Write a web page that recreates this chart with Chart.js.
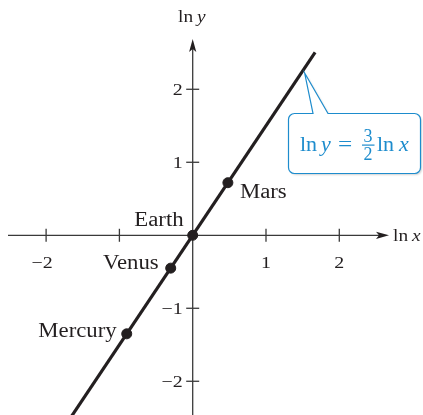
<!DOCTYPE html>
<html>
<head>
<meta charset="utf-8">
<script src="https://cdn.jsdelivr.net/npm/chart.js@4/dist/chart.umd.min.js"></script>
<style>
  html, body { margin: 0; padding: 0; background: #fff; }
  #wrap { width: 423px; height: 415px; position: relative; }
</style>
</head>
<body>
<div id="wrap"><canvas id="c"></canvas></div>
<script>
// Planets on a log-log plot (Kepler's third law)
const planets = ['Mercury', 'Venus', 'Earth', 'Mars'];
const lnX = [-0.90, -0.30, 0, 0.48];
const lnY = [-1.35, -0.45, 0, 0.72];

// Fitted line ln y = (3/2) ln x, drawn across this ln x span
const slopeNum = 3, slopeDen = 2;
const lineLnX = [-1.65, 1.67];

// Axis ticks and their labels
const xTicks = [-2, -1, 1, 2];
const xTickLabels = ['\u22122', '', '1', '2'];
const yTicks = [-2, -1, 1, 2];
const yTickLabels = ['\u22122', '\u22121', '1', '2'];

const INK = '#231f20';
const BLUE = '#1d8ccd';
const SERIF = '"Liberation Serif", "DejaVu Serif", serif';
const WIDE = 1.14; // the serif face is set slightly wide

// label placement relative to each dot (pixels), and text alignment
const labelLayout = {
  Mercury: { dx: -10, dy: 3, align: 'right' },
  Venus:   { dx: -12, dy: 1, align: 'right' },
  Earth:   { dx: -9,  dy: -9, align: 'right' },
  Mars:    { dx: 12,  dy: 15, align: 'left' }
};

// draw text with a horizontal stretch; returns the drawn width
function wideText(ctx, str, x, y, font, align) {
  ctx.save();
  ctx.font = font;
  const w = ctx.measureText(str).width * WIDE;
  let left = x;
  if (align === 'center') left = x - w / 2;
  else if (align === 'right') left = x - w;
  ctx.translate(left, y);
  ctx.scale(WIDE, 1);
  ctx.textAlign = 'left';
  ctx.fillText(str, 0, 0);
  ctx.restore();
  return w;
}

function arrowHead(ctx, tipX, tipY, dir) {
  ctx.save();
  ctx.translate(tipX, tipY);
  if (dir === 'up') ctx.rotate(-Math.PI / 2);
  ctx.beginPath();
  ctx.moveTo(0, 0);
  ctx.lineTo(-13, -3.6);
  ctx.lineTo(-10, 0);
  ctx.lineTo(-13, 3.6);
  ctx.closePath();
  ctx.fillStyle = INK;
  ctx.fill();
  ctx.restore();
}

const axesPlugin = {
  id: 'crossAxes',
  beforeDatasetsDraw(chart) {
    const { ctx, scales: { x, y }, height } = chart;
    const x0 = x.getPixelForValue(0);
    const y0 = y.getPixelForValue(0);
    ctx.save();
    ctx.strokeStyle = '#3a3a3a';
    ctx.lineWidth = 1.3;
    // horizontal axis
    ctx.beginPath();
    ctx.moveTo(8, y0);
    ctx.lineTo(384, y0);
    ctx.stroke();
    arrowHead(ctx, 389, y0, 'right');
    // vertical axis
    ctx.beginPath();
    ctx.moveTo(x0, height);
    ctx.lineTo(x0, 45);
    ctx.stroke();
    arrowHead(ctx, x0, 39, 'up');

    // tick marks and labels
    ctx.fillStyle = INK;
    ctx.textBaseline = 'alphabetic';
    const tickFont = '17.5px ' + SERIF;
    xTicks.forEach((v, i) => {
      const px = x.getPixelForValue(v);
      ctx.beginPath();
      ctx.moveTo(px, y0 - 6.5);
      ctx.lineTo(px, y0 + 6.5);
      ctx.stroke();
      wideText(ctx, xTickLabels[i], px + (v < 0 ? -4 : 0), y0 + 33, tickFont, 'center');
    });
    yTicks.forEach((v, i) => {
      const py = y.getPixelForValue(v);
      ctx.beginPath();
      ctx.moveTo(x0 - 6.5, py);
      ctx.lineTo(x0 + 6.5, py);
      ctx.stroke();
      wideText(ctx, yTickLabels[i], x0 - 10, py + 6, tickFont, 'right');
    });

    // axis titles
    let w = wideText(ctx, 'ln', 178, 22, '17px ' + SERIF, 'left');
    wideText(ctx, 'y', 178 + w + 4, 22, 'italic 17px ' + SERIF, 'left');
    w = wideText(ctx, 'ln', 393, y0 + 6, '17px ' + SERIF, 'left');
    wideText(ctx, 'x', 393 + w + 4, y0 + 6, 'italic 17px ' + SERIF, 'left');
    ctx.restore();
  },
  afterDatasetsDraw(chart) {
    const { ctx, scales: { x, y } } = chart;
    ctx.save();
    // planet names
    ctx.fillStyle = INK;
    ctx.textBaseline = 'alphabetic';
    planets.forEach((name, i) => {
      const L = labelLayout[name];
      wideText(ctx, name, x.getPixelForValue(lnX[i]) + L.dx, y.getPixelForValue(lnY[i]) + L.dy,
        '20px ' + SERIF, L.align);
    });

    // callout with the equation
    const tipX = x.getPixelForValue(1.5) + 2;
    const tipY = y.getPixelForValue(1.5 * slopeNum / slopeDen) + 2;
    const bx = 288.5, by = 113.5, bw = 132, bh = 60, r = 6;
    const p1 = 313, p2 = 328;
    ctx.beginPath();
    ctx.moveTo(bx + r, by);
    ctx.lineTo(p1, by);
    ctx.lineTo(tipX, tipY);
    ctx.lineTo(p2, by);
    ctx.lineTo(bx + bw - r, by);
    ctx.arcTo(bx + bw, by, bx + bw, by + r, r);
    ctx.lineTo(bx + bw, by + bh - r);
    ctx.arcTo(bx + bw, by + bh, bx + bw - r, by + bh, r);
    ctx.lineTo(bx + r, by + bh);
    ctx.arcTo(bx, by + bh, bx, by + bh - r, r);
    ctx.lineTo(bx, by + r);
    ctx.arcTo(bx, by, bx + r, by, r);
    ctx.closePath();
    ctx.fillStyle = '#ffffff';
    ctx.shadowColor = 'rgba(0,0,0,0.18)';
    ctx.shadowOffsetX = 1.5;
    ctx.shadowOffsetY = 1.5;
    ctx.shadowBlur = 2;
    ctx.fill();
    ctx.shadowColor = 'transparent';
    ctx.strokeStyle = BLUE;
    ctx.lineWidth = 1.2;
    ctx.stroke();

    ctx.fillStyle = BLUE;
    const base = 151;
    ctx.textAlign = 'left';
    ctx.font = '22px ' + SERIF;
    ctx.fillText('ln', 300, base);
    ctx.font = 'italic 22px ' + SERIF;
    ctx.fillText('y', 321, base);
    ctx.save();
    ctx.translate(338, base);
    ctx.scale(1.15, 1);
    ctx.font = '22px ' + SERIF;
    ctx.fillText('=', 0, 0);
    ctx.restore();
    // stacked fraction
    ctx.font = '18px ' + SERIF;
    ctx.textAlign = 'center';
    ctx.fillText(String(slopeNum), 368, 142);
    ctx.fillText(String(slopeDen), 368, 160);
    ctx.fillRect(362, 144.5, 12.5, 1.2);
    ctx.textAlign = 'left';
    ctx.font = '22px ' + SERIF;
    ctx.fillText('ln', 377, base);
    ctx.font = 'italic 22px ' + SERIF;
    ctx.fillText('x', 399, base);
    ctx.restore();
  }
};

new Chart(document.getElementById('c'), {
  type: 'scatter',
  data: {
    datasets: [
      {
        type: 'line',
        data: lineLnX.map(v => ({ x: v, y: v * slopeNum / slopeDen })),
        borderColor: INK,
        borderWidth: 3.2,
        pointRadius: 0,
        fill: false
      },
      {
        data: lnX.map((v, i) => ({ x: v, y: lnY[i] })),
        backgroundColor: INK,
        borderColor: INK,
        pointRadius: 5,
        pointHoverRadius: 5
      }
    ]
  },
  options: {
    responsive: true,
    maintainAspectRatio: false,
    animation: false,
    layout: { padding: 0, autoPadding: false },
    plugins: { legend: { display: false }, tooltip: { enabled: false } },
    scales: {
      x: { type: 'linear', display: false, min: -2.629, max: 3.142 },
      y: { type: 'linear', display: false, min: -2.462, max: 3.223 }
    }
  },
  plugins: [axesPlugin]
});
</script>
</body>
</html>
